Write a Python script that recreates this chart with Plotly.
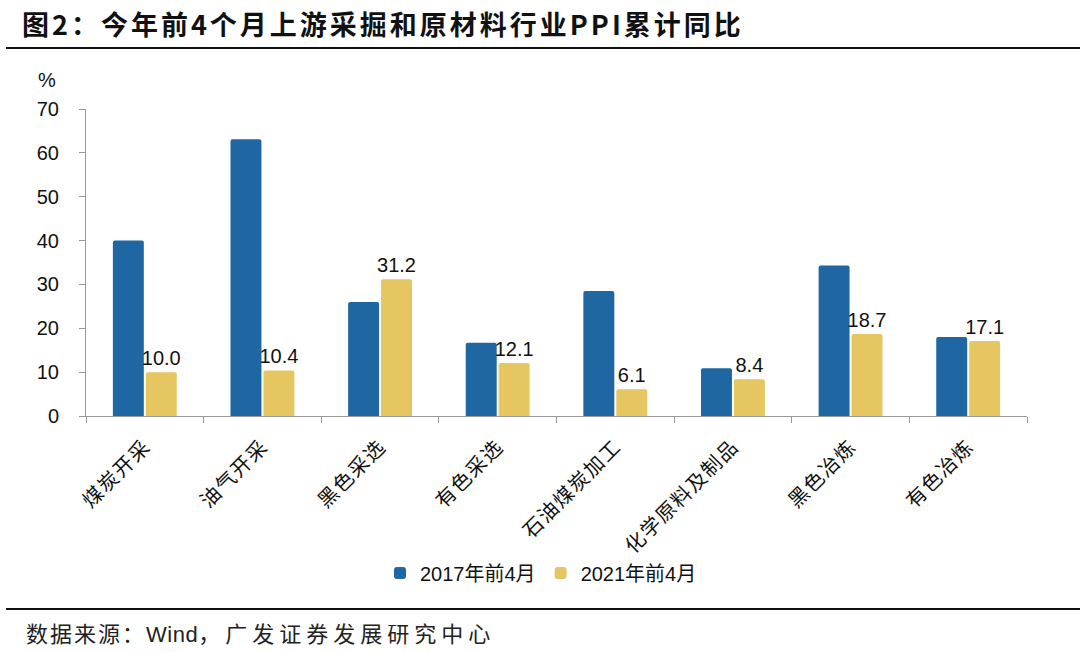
import plotly.graph_objects as go

categories = ["煤炭开采", "油气开采", "黑色采选", "有色采选", "石油煤炭加工", "化学原料及制品", "黑色冶炼", "有色冶炼"]
values_2017 = [40.0, 63.1, 26.0, 16.7, 28.5, 10.9, 34.3, 18.0]
values_2021 = [10.0, 10.4, 31.2, 12.1, 6.1, 8.4, 18.7, 17.1]
series_names = ["2017年前4月", "2021年前4月"]
y_ticks = [0, 10, 20, 30, 40, 50, 60, 70]

BLUE = "#1F67A3"
YELLOW = "#E5C660"
NUM_FONT = "Liberation Sans, Arial, Noto Sans CJK SC"
CJK_FONT = "Noto Sans CJK SC, Liberation Sans"

fig = go.Figure()
fig.add_trace(go.Bar(
    x=categories, y=values_2017, name=series_names[0],
    marker=dict(color=BLUE, cornerradius=2, line=dict(width=0)),
))
fig.add_trace(go.Bar(
    x=categories, y=values_2021, name=series_names[1],
    marker=dict(color=YELLOW, cornerradius=2, line=dict(width=0)),
    text=[f"{v:.1f}" for v in values_2021], textposition="outside",
    textfont=dict(family=NUM_FONT, size=20, color="#111"),
    constraintext="none", cliponaxis=False,
))

L, R, T, B = 86, 53, 109, 236
W, H = 1080, 652
pw = W - L - R
ph = H - T - B

def px(x):
    return (x - L) / pw

def py(y):
    return (H - B - y) / ph

tick_text = [f'<span style="letter-spacing:1.5px">{c}</span>' for c in categories]

source_text = ('<span style="letter-spacing:2px">数据来源：</span>'
               '<span style="font-family:Liberation Sans;letter-spacing:0.5px">Wind</span>'
               '<span style="letter-spacing:5px">，广发证券发展研究中心</span>')

fig.update_layout(
    width=W, height=H,
    margin=dict(l=L, r=R, t=T, b=B, autoexpand=False),
    paper_bgcolor="white", plot_bgcolor="white",
    barmode="group", bargap=0.44, bargroupgap=0.06,
    showlegend=True,
    legend=dict(orientation="h", x=px(541), xanchor="center", y=py(573), yanchor="middle",
                font=dict(family=NUM_FONT, size=20, color="#111"),
                itemwidth=30, traceorder="normal"),
    xaxis=dict(
        showline=True, linecolor="#999", linewidth=1,
        ticks="outside", tickson="boundaries", ticklen=6, tickcolor="#999",
        tickangle=-45, tickfont=dict(family=CJK_FONT, size=20, color="#111"),
        tickmode="array", tickvals=categories, ticktext=tick_text,
        ticklabelstandoff=10, showgrid=False,
    ),
    yaxis=dict(
        range=[0, 70], tickvals=y_ticks, showline=True, linecolor="#999", linewidth=1,
        ticks="outside", ticklen=6, tickcolor="#999", showgrid=False, zeroline=False,
        tickfont=dict(family=NUM_FONT, size=20, color="#111"), ticklabelstandoff=16,
    ),
    annotations=[
        dict(text='<b><span style="letter-spacing:3px">图2：今年前4个月上游采掘和原材料行业PPI累计同比</span></b>',
             xref="paper", yref="paper",
             x=px(20), y=py(23), xanchor="left", yanchor="middle", showarrow=False,
             font=dict(family=CJK_FONT, size=27, color="#111")),
        dict(text="%", xref="paper", yref="paper", x=px(47), y=py(80), xanchor="center",
             yanchor="middle", showarrow=False, font=dict(family=NUM_FONT, size=20, color="#111")),
        dict(text=source_text,
             xref="paper", yref="paper",
             x=px(24), y=py(632), xanchor="left", yanchor="middle", showarrow=False,
             font=dict(family=CJK_FONT, size=22, color="#222")),
    ],
    shapes=[
        dict(type="line", xref="paper", yref="paper", x0=px(6), x1=px(1080), y0=py(48), y1=py(48),
             line=dict(color="#111", width=2)),
        dict(type="line", xref="paper", yref="paper", x0=px(6), x1=px(1080), y0=py(609), y1=py(609),
             line=dict(color="#111", width=2)),
    ],
)

fig.write_html("out.html", config={"displayModeBar": False},
               post_script="document.body.style.margin='0';document.body.style.padding='0';")
